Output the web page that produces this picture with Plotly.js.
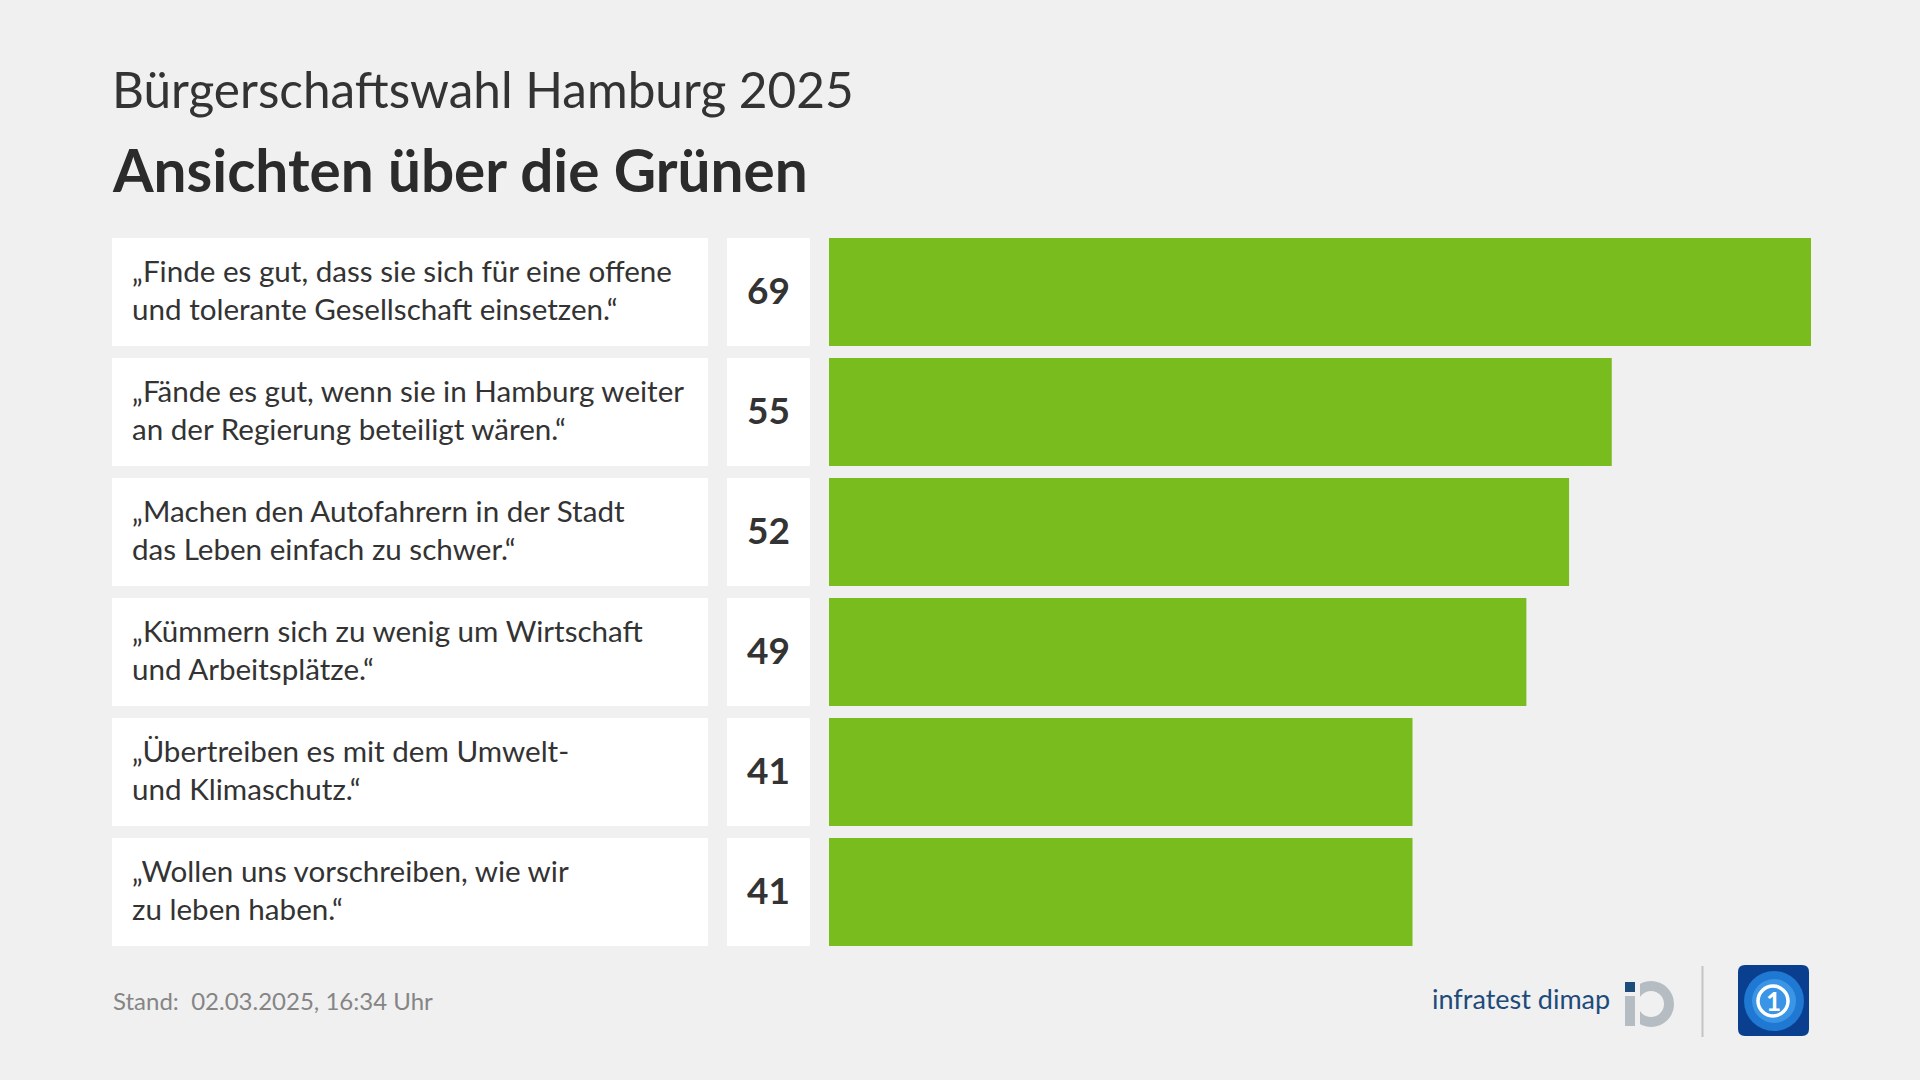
<!DOCTYPE html>
<html>
<head>
<meta charset="utf-8">
<script src="https://cdn.plot.ly/plotly-3.0.1.min.js"></script>
<style>
html,body{margin:0;padding:0;background:#f0f0f0;}
#chart{width:1920px;height:1080px;}
</style>
</head>
<body>
<div id="chart"></div>
<script>
// ---- data ----
const categories = ["A1","A2","A3","A4","A5","A6"];
const labels = [
  "„Finde es gut, dass sie sich für eine offene<br>und tolerante Gesellschaft einsetzen.“",
  "„Fände es gut, wenn sie in Hamburg weiter<br>an der Regierung beteiligt wären.“",
  "„Machen den Autofahrern in der Stadt<br>das Leben einfach zu schwer.“",
  "„Kümmern sich zu wenig um Wirtschaft<br>und Arbeitsplätze.“",
  "„Übertreiben es mit dem Umwelt-<br>und Klimaschutz.“",
  "„Wollen uns vorschreiben, wie wir<br>zu leben haben.“"
];
const values = [69, 55, 52, 49, 41, 41];
const subtitleText = "Bürgerschaftswahl Hamburg 2025";
const titleText = "Ansichten über die Grünen";
const footerText = "Stand:  02.03.2025, 16:34 Uhr";

// ---- helpers ----
const W = 1920, H = 1080;
const px = x => x / W;
const py = y => 1 - y / H;
const FONT = "Lato, 'Noto Sans', sans-serif";
const BG = "#f0f0f0";

const ones = categories.map(() => 1);

const traces = [
  { type: "bar", orientation: "h", y: categories, x: ones, xaxis: "x2", yaxis: "y",
    marker: { color: "#ffffff" }, width: 0.9, hoverinfo: "skip" },
  { type: "bar", orientation: "h", y: categories, x: ones, xaxis: "x3", yaxis: "y",
    marker: { color: "#ffffff" }, width: 0.9, hoverinfo: "skip" },
  { type: "bar", orientation: "h", y: categories, x: values, xaxis: "x", yaxis: "y",
    marker: { color: "#78bc1e" }, width: 0.9, hoverinfo: "skip" }
];

const hidden = { showgrid: false, zeroline: false, showticklabels: false, showline: false, ticks: "", fixedrange: true };

const annotations = [
  { xref: "paper", yref: "paper", x: px(110), y: py(89), xanchor: "left", yanchor: "middle",
    text: subtitleText, showarrow: false, font: { family: FONT, size: 49.5, color: "#333333" } },
  { xref: "paper", yref: "paper", x: px(110), y: py(169), xanchor: "left", yanchor: "middle",
    text: "<b>" + titleText + "</b>", showarrow: false, font: { family: FONT, size: 58.5, color: "#2b2b2b" } },
  { xref: "paper", yref: "paper", x: px(111), y: py(1000), xanchor: "left", yanchor: "middle",
    text: footerText, showarrow: false, font: { family: FONT, size: 24, color: "#858585" } },
  { xref: "paper", yref: "paper", x: px(1612), y: py(998), xanchor: "right", yanchor: "middle",
    text: "infratest dimap", showarrow: false, font: { family: FONT, size: 27, color: "#1d4b7a" } },
  { xref: "paper", yref: "paper", x: px(1773), y: py(1001), xanchor: "center", yanchor: "middle",
    text: "<b>1</b>", showarrow: false, font: { family: FONT, size: 26, color: "#ffffff" } }
];
labels.forEach((t, i) => {
  annotations.push({ xref: "x2", yref: "y", x: 0, y: categories[i], xanchor: "left", yanchor: "middle",
    xshift: 18, yshift: 2.5, align: "left", text: t, showarrow: false,
    font: { family: FONT, size: 29.6, color: "#333333" } });
  annotations.push({ xref: "x3", yref: "y", x: 0.5, y: categories[i], xanchor: "center", yanchor: "middle",
    yshift: 2.5, text: "<b>" + values[i] + "</b>", showarrow: false,
    font: { family: FONT, size: 37, color: "#333333" } });
});

const shapes = [
  // infratest logo: ring
  { type: "circle", xref: "paper", yref: "paper", x0: px(1633), x1: px(1669), y0: py(1022), y1: py(986),
    line: { color: "#b5bcc2", width: 10 }, fillcolor: "rgba(0,0,0,0)" },
  { type: "rect", xref: "paper", yref: "paper", x0: px(1618), x1: px(1640), y0: py(1030), y1: py(975),
    line: { width: 0 }, fillcolor: BG },
  { type: "rect", xref: "paper", yref: "paper", x0: px(1625), x1: px(1635), y0: py(1026), y1: py(996),
    line: { width: 0 }, fillcolor: "#b5bcc2" },
  { type: "rect", xref: "paper", yref: "paper", x0: px(1625), x1: px(1635), y0: py(992), y1: py(982),
    line: { width: 0 }, fillcolor: "#1d4b7a" },
  // separator
  { type: "line", xref: "paper", yref: "paper", x0: px(1702.5), x1: px(1702.5), y0: py(966), y1: py(1037),
    line: { color: "#c4c4c4", width: 2 } },
  // tagesschau logo
  { type: "path", xref: "paper", yref: "paper",
    path: (() => { const x0=1738,x1=1809,y0=965,y1=1036,r=7;
      return `M ${px(x0+r)} ${py(y0)} L ${px(x1-r)} ${py(y0)} Q ${px(x1)} ${py(y0)} ${px(x1)} ${py(y0+r)} L ${px(x1)} ${py(y1-r)} Q ${px(x1)} ${py(y1)} ${px(x1-r)} ${py(y1)} L ${px(x0+r)} ${py(y1)} Q ${px(x0)} ${py(y1)} ${px(x0)} ${py(y1-r)} L ${px(x0)} ${py(y0+r)} Q ${px(x0)} ${py(y0)} ${px(x0+r)} ${py(y0)} Z`; })(),
    line: { width: 0 }, fillcolor: "#0a3f8f" },
  { type: "circle", xref: "paper", yref: "paper", x0: px(1744), x1: px(1804), y0: py(1031), y1: py(971),
    line: { width: 0 }, fillcolor: "#1f78d1" },
  { type: "circle", xref: "paper", yref: "paper", x0: px(1752), x1: px(1796), y0: py(1023), y1: py(979),
    line: { width: 0 }, fillcolor: "#3a95e6" },
  { type: "circle", xref: "paper", yref: "paper", x0: px(1758), x1: px(1788), y0: py(1016), y1: py(986),
    line: { color: "#ffffff", width: 3.5 }, fillcolor: "rgba(0,0,0,0)" }
];

const layout = {
  width: W, height: H,
  margin: { l: 0, r: 0, t: 0, b: 0, pad: 0 },
  paper_bgcolor: BG, plot_bgcolor: "rgba(0,0,0,0)",
  showlegend: false, barmode: "overlay",
  font: { family: FONT },
  xaxis: Object.assign({ domain: [px(829), px(1811)], range: [0, 69], anchor: "y" }, hidden),
  xaxis2: Object.assign({ domain: [px(112), px(708)], range: [0, 1], anchor: "y" }, hidden),
  xaxis3: Object.assign({ domain: [px(727), px(810)], range: [0, 1], anchor: "y" }, hidden),
  yaxis: Object.assign({ domain: [py(952), py(232)], range: [5.5, -0.5], type: "category" }, hidden),
  annotations: annotations,
  shapes: shapes
};

Plotly.newPlot("chart", traces, layout, { staticPlot: true, displayModeBar: false });
</script>
</body>
</html>
